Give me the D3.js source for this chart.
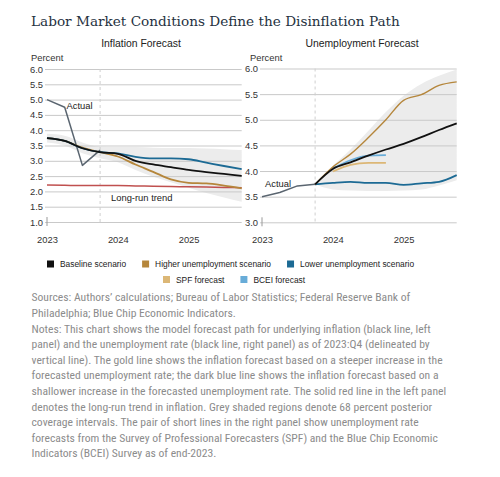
<!DOCTYPE html>
<html>
<head>
<meta charset="utf-8">
<script src="https://cdn.jsdelivr.net/npm/d3@7"></script>
<style>
  body { margin: 0; background: #fff; }
  svg { display: block; }
</style>
</head>
<body>
<div id="chart"></div>
<script>
// quarters on the x axis, 2023:Q1 .. 2025:Q4
const quarters = [2023.0, 2023.25, 2023.5, 2023.75, 2024.0, 2024.25, 2024.5, 2024.75, 2025.0, 2025.25, 2025.5, 2025.75];
const yearTicks = [2023, 2024, 2025];
const forecastStart = 2023.75;

// inflation panel
const inflActual = [5.0, 4.75, 2.85, 3.35];
const inflBaseline = [3.74, 3.65, 3.41, 3.28, 3.23, 3.0, 2.88, 2.79, 2.70, 2.63, 2.57, 2.51];
const inflHigher = [3.74, 3.65, 3.43, 3.28, 3.14, 2.88, 2.64, 2.39, 2.28, 2.26, 2.19, 2.10];
const inflLower = [3.74, 3.65, 3.41, 3.28, 3.24, 3.13, 3.08, 3.08, 3.05, 2.94, 2.83, 2.73];
const inflTrend = [2.21, 2.20, 2.19, 2.19, 2.19, 2.18, 2.17, 2.16, 2.15, 2.14, 2.13, 2.12];
const inflBandHi = [3.88, 3.82, 3.60, 3.46, 3.45, 3.45, 3.43, 3.42, 3.42, 3.40, 3.38, 3.35];
const inflBandLo = [3.60, 3.50, 3.25, 3.08, 2.95, 2.70, 2.48, 2.30, 2.12, 1.95, 1.80, 1.66];
const inflTicks = [1.0, 1.5, 2.0, 2.5, 3.0, 3.5, 4.0, 4.5, 5.0, 5.5, 6.0];

// unemployment panel (forecasts start at 2023:Q4)
const unActual = [3.50, 3.58, 3.71, 3.74];
const unBaseline = [3.74, 4.04, 4.17, 4.30, 4.42, 4.53, 4.66, 4.80, 4.93];
const unHigher = [3.74, 4.08, 4.33, 4.65, 5.00, 5.38, 5.49, 5.67, 5.74];
const unLower = [3.74, 3.77, 3.79, 3.77, 3.77, 3.73, 3.76, 3.79, 3.92];
const unBandHi = [3.74, 4.10, 4.42, 4.78, 5.15, 5.47, 5.70, 5.86, 5.98];
const unBandLo = [3.74, 3.64, 3.62, 3.61, 3.61, 3.62, 3.64, 3.72, 3.82];
const spf = [3.99, 4.12, 4.16, 4.16];   // 2024:Q1 .. 2024:Q4
const bcei = [4.05, 4.21, 4.30, 4.31];
const unTicks = [3.0, 3.5, 4.0, 4.5, 5.0, 5.5, 6.0];

const legendLabels = ["Baseline scenario", "Higher unemployment scenario", "Lower unemployment scenario", "SPF forecast", "BCEI forecast"];
const legendColors = ["#111111", "#b5863b", "#1c6a94", "#dcb776", "#68acd8"];

const notes = [
  "Sources: Authors\u2019 calculations; Bureau of Labor Statistics; Federal Reserve Bank of",
  "Philadelphia; Blue Chip Economic Indicators.",
  "Notes: This chart shows the model forecast path for underlying inflation (black line, left",
  "panel) and the unemployment rate (black line, right panel) as of 2023:Q4 (delineated by",
  "vertical line). The gold line shows the inflation forecast based on a steeper increase in the",
  "forecasted unemployment rate; the dark blue line shows the inflation forecast based on a",
  "shallower increase in the forecasted unemployment rate. The solid red line in the left panel",
  "denotes the long-run trend in inflation. Grey shaded regions denote 68 percent posterior",
  "coverage intervals. The pair of short lines in the right panel show unemployment rate",
  "forecasts from the Survey of Professional Forecasters (SPF) and the Blue Chip Economic",
  "Indicators (BCEI) Survey as of end-2023."
];

const WIDTH = 500, HEIGHT = 477;
const SANS = "'Liberation Sans', Arial, sans-serif";

const svg = d3.select("#chart").append("svg")
  .attr("width", WIDTH)
  .attr("height", HEIGHT);

svg.append("rect").attr("width", WIDTH).attr("height", HEIGHT).attr("fill", "#fff");

// title, fitted to the reference width
const title = svg.append("text")
  .attr("x", 31).attr("y", 25.5)
  .attr("font-family", "'DejaVu Serif', Georgia, serif")
  .attr("font-size", 16)
  .attr("fill", "#26323f")
  .text("Labor Market Conditions Define the Disinflation Path");
title.attr("font-size", 16 * 369 / title.node().getComputedTextLength());

function panel(opts) {
  const g = svg.append("g");
  const x = d3.scaleLinear().domain([quarters[0], quarters[quarters.length - 1]]).range(opts.xRange);
  const y = d3.scaleLinear().domain(opts.yDomain).range(opts.yRange);

  g.append("text")
    .attr("x", opts.titleX).attr("y", 46.5)
    .attr("text-anchor", "middle")
    .attr("font-family", SANS).attr("font-size", 10.4).attr("fill", "#222")
    .text(opts.title);

  g.append("text")
    .attr("x", opts.percentX).attr("y", 60.5)
    .attr("font-family", SANS).attr("font-size", 9.4).attr("fill", "#333")
    .text("Percent");

  // band
  const area = d3.area()
    .x((d, i) => x(quarters[i + opts.bandOffset]))
    .y0(d => y(d[0]))
    .y1(d => y(d[1]))
    .curve(d3.curveMonotoneX);
  g.append("path")
    .datum(opts.bandLo.map((v, i) => [v, opts.bandHi[i]]))
    .attr("d", area)
    .attr("fill", "#ececec");

  // grid / y axis
  const yAxis = g.append("g")
    .attr("transform", `translate(${opts.xRange[0] - 2},0)`)
    .call(d3.axisLeft(y).tickValues(opts.ticks).tickFormat(d3.format(".1f"))
      .tickSize(-(opts.xRange[1] - opts.xRange[0] + 2)).tickPadding(2));
  yAxis.select(".domain").remove();
  yAxis.selectAll(".tick line").attr("stroke", "#c9c9c9");
  yAxis.selectAll(".tick text").attr("font-family", SANS).attr("font-size", 9.4).attr("fill", "#333");

  // x axis labels
  const xAxis = g.append("g")
    .attr("transform", `translate(0,${opts.yRange[0]})`)
    .call(d3.axisBottom(x).tickValues(yearTicks).tickFormat(d3.format("d")).tickSize(0).tickPadding(14));
  xAxis.select(".domain").remove();
  xAxis.selectAll(".tick text").attr("font-family", SANS).attr("font-size", 9.4).attr("fill", "#333");

  g.append("line")
    .attr("x1", x(quarters[0])).attr("x2", x(quarters[0]))
    .attr("y1", opts.yRange[0] - 5).attr("y2", opts.yRange[0] + 4)
    .attr("stroke", "#999");

  // forecast start
  g.append("line")
    .attr("x1", x(forecastStart)).attr("x2", x(forecastStart))
    .attr("y1", opts.yRange[1]).attr("y2", opts.yRange[0])
    .attr("stroke", "#cfcfcf").attr("stroke-dasharray", "3,3");

  opts.series.forEach(s => {
    const line = d3.line()
      .x((d, i) => x(quarters[i + s.offset]))
      .y(d => y(d))
      .curve(s.curve || d3.curveMonotoneX);
    g.append("path")
      .datum(s.values)
      .attr("d", line)
      .attr("fill", "none")
      .attr("stroke", s.color)
      .attr("stroke-width", s.width || 1.8)
      .attr("stroke-linejoin", "round");
  });

  opts.labels.forEach(l => {
    g.append("text")
      .attr("x", l.x).attr("y", l.y)
      .attr("font-family", SANS).attr("font-size", 9.4).attr("fill", "#222")
      .text(l.text);
  });
}

panel({
  title: "Inflation Forecast", titleX: 141, percentX: 31,
  xRange: [47, 241.7], yDomain: [1, 6], yRange: [222, 69], ticks: inflTicks,
  bandLo: inflBandLo, bandHi: inflBandHi, bandOffset: 0,
  series: [
    {values: inflTrend, offset: 0, color: "#c0504f", width: 1.5},
    {values: inflActual, offset: 0, color: "#5a6570", width: 1.5, curve: d3.curveLinear},
    {values: inflHigher, offset: 0, color: "#b5863b"},
    {values: inflLower, offset: 0, color: "#1c6a94"},
    {values: inflBaseline, offset: 0, color: "#111111"}
  ],
  labels: [
    {text: "Actual", x: 66.5, y: 108.5},
    {text: "Long-run trend", x: 111, y: 200.5}
  ]
});

panel({
  title: "Unemployment Forecast", titleX: 362, percentX: 250,
  xRange: [262, 456.7], yDomain: [3, 6], yRange: [222.3, 68.5], ticks: unTicks,
  bandLo: unBandLo, bandHi: unBandHi, bandOffset: 3,
  series: [
    {values: unActual, offset: 0, color: "#5a6570", width: 1.5, curve: d3.curveLinear},
    {values: unLower, offset: 3, color: "#1c6a94"},
    {values: spf, offset: 4, color: "#dcb776"},
    {values: bcei, offset: 4, color: "#68acd8"},
    {values: unHigher, offset: 3, color: "#b5863b", width: 1.4},
    {values: unBaseline, offset: 3, color: "#111111"}
  ],
  labels: [
    {text: "Actual", x: 265, y: 186.5}
  ]
});

// legend
const legendRows = [[0, 1, 2], [3, 4]];
const legendStart = [47, 163];
const legendY = [264, 279.5];
legendRows.forEach((row, r) => {
  let cx = legendStart[r];
  row.forEach(k => {
    const item = svg.append("g");
    item.append("rect")
      .attr("x", cx).attr("y", legendY[r] - 3.5)
      .attr("width", 7).attr("height", 7)
      .attr("fill", legendColors[k]);
    const t = item.append("text")
      .attr("x", cx + 13).attr("y", legendY[r] + 3.2)
      .attr("font-family", SANS).attr("font-size", 8.4).attr("fill", "#222")
      .text(legendLabels[k]);
    cx += 13 + t.node().getComputedTextLength() + 16;
  });
});

// notes, squeezed to the condensed width of the original
const notesG = svg.append("g");
const noteText = notesG.selectAll("text")
  .data(notes)
  .enter()
  .append("text")
    .attr("x", 0)
    .attr("y", (d, i) => 301.5 + i * 15.6)
    .attr("font-family", "'Roboto Condensed', Roboto, sans-serif")
    .attr("font-size", 11.6)
    .attr("fill", "#8c8c8c")
    .text(d => d);
const w0 = noteText.nodes()[0].getComputedTextLength();
notesG.attr("transform", `translate(31.5,0) scale(${379 / w0},1)`);
</script>
</body>
</html>
